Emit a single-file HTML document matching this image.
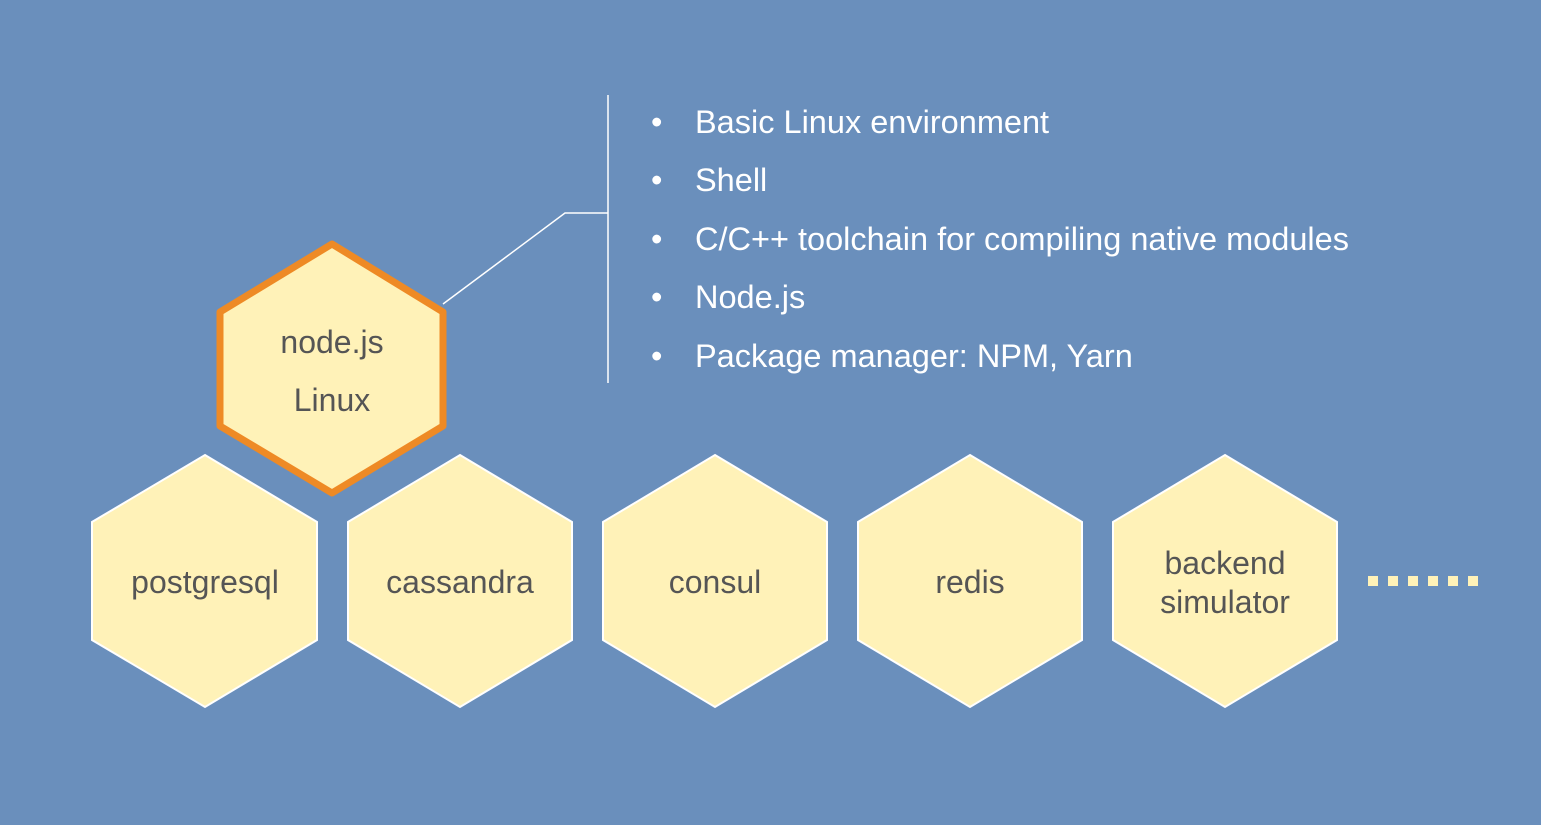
<!DOCTYPE html>
<html><head><style>
html,body{margin:0;padding:0;background:#6a8fbc;width:1541px;height:825px;overflow:hidden}
svg{display:block}
text{font-family:"Liberation Sans",sans-serif}
</style></head><body>
<svg width="1541" height="825" viewBox="0 0 1541 825">
<rect width="1541" height="825" fill="#6a8fbc"/>
<g fill="#fff2b8" stroke="#ffffff" stroke-width="2">
<polygon points="205,455 317,522 317,640 205,707 92,640 92,522"/>
<polygon points="460,455 572,522 572,640 460,707 348,640 348,522"/>
<polygon points="715,455 827,522 827,640 715,707 603,640 603,522"/>
<polygon points="970,455 1082,522 1082,640 970,707 858,640 858,522"/>
<polygon points="1225,455 1337,522 1337,640 1225,707 1113,640 1113,522"/>
</g>
<polygon points="332,244 443,312 443,426 332,493 220,426 220,312" fill="#fff2b8" stroke="#ee8a25" stroke-width="7" stroke-linejoin="round"/>
<polyline points="443,304 565,213 608,213" fill="none" stroke="#ffffff" stroke-width="1.5"/>
<line x1="608" y1="95" x2="608" y2="383" stroke="#ffffff" stroke-width="1.5"/>
<g fill="#fff2b8">
<rect x="1368" y="576" width="10" height="10"/><rect x="1388" y="576" width="10" height="10"/><rect x="1408" y="576" width="10" height="10"/><rect x="1428" y="576" width="10" height="10"/><rect x="1448" y="576" width="10" height="10"/><rect x="1468" y="576" width="10" height="10"/>
</g>
<g fill="#555555" font-size="32" text-anchor="middle">
<text x="332" y="353">node.js</text>
<text x="332" y="411">Linux</text>
<text x="205" y="593">postgresql</text>
<text x="460" y="593">cassandra</text>
<text x="715" y="593">consul</text>
<text x="970" y="593">redis</text>
<text x="1225" y="574">backend</text>
<text x="1225" y="613">simulator</text>
</g>
<g fill="#ffffff" font-size="32.5">
<text x="651" y="133">•</text><text x="695" y="133">Basic Linux environment</text>
<text x="651" y="191">•</text><text x="695" y="191">Shell</text>
<text x="651" y="250">•</text><text x="695" y="250">C/C++ toolchain for compiling native modules</text>
<text x="651" y="308">•</text><text x="695" y="308">Node.js</text>
<text x="651" y="367">•</text><text x="695" y="367">Package manager: NPM, Yarn</text>
</g>
</svg>
</body></html>
